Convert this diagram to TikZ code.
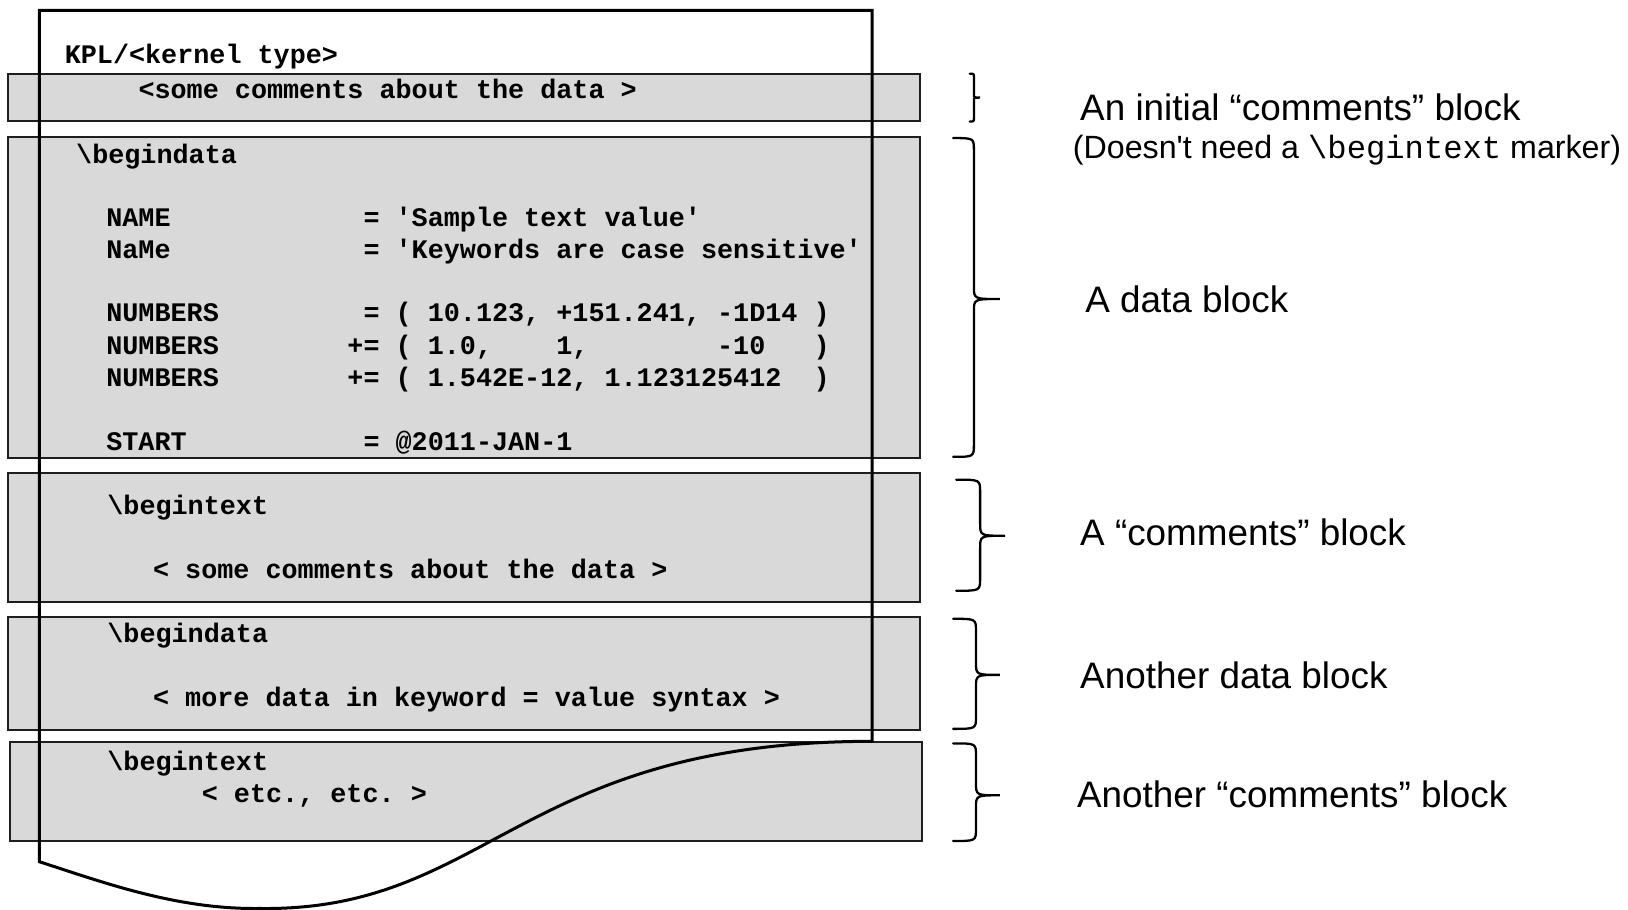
\documentclass[tikz,border=0pt]{standalone}
\usepackage{fontspec}
\setmonofont{Liberation Mono}
\newfontfamily\lab{Liberation Sans}
\definecolor{boxgray}{RGB}{217,217,217}
\definecolor{edge}{RGB}{30,30,30}
\newcommand\drawbrace[7]{%
  \draw[bracestyle] (#1,#4) .. controls (#2,#4) .. (#2,{#4+#7}) -- (#2,{#6-#7})
    .. controls (#2,#6) .. (#3,#6) .. controls (#2,#6) .. (#2,{#6+#7})
    -- (#2,{#5-#7}) .. controls (#2,#5) .. (#1,#5);}
\begin{document}
\begin{tikzpicture}[x=0.5pt,y=-0.5pt,
  blockbox/.style={draw=edge, line width=0.95pt, fill=boxgray},
  code/.style={anchor=base west, inner sep=0pt, font=\ttfamily\bfseries\fontsize{12.9}{14}\selectfont},
  lbl/.style={anchor=base west, inner sep=0pt, font=\lab\fontsize{17.75}{20}\selectfont},
  lblsmall/.style={anchor=base west, inner sep=0pt, font=\lab\fontsize{15.5}{17}\selectfont},
  pageline/.style={draw=black, line width=1.45pt, line join=miter},
  bracestyle/.style={draw=black, line width=1.1pt, line cap=round}]
\useasboundingbox (0,0) rectangle (1568,876);
% blocks
\draw[blockbox] (8,71) rectangle (886,117);
\draw[blockbox] (8,132) rectangle (886,441);
\draw[blockbox] (8,456) rectangle (886,580);
\draw[blockbox] (8,594) rectangle (886,703);
\draw[blockbox] (10,715) rectangle (888,810);
% code text
\node[code] (kpl) at (62,61) {KPL/<kernel type>};
\node[code] (c0) at (133,95) {<some comments about the data >};
\node[code] (bd1) at (73,157) {\textbackslash begindata};
\node[code] (name) at (102,218) {NAME~~~~~~~~~~~~= 'Sample text value'};
\node[code] (name2) at (102,249) {NaMe~~~~~~~~~~~~= 'Keywords are case sensitive'};
\node[code] (num1) at (102,310) {NUMBERS~~~~~~~~~= ( 10.123, +151.241, -1D14 )};
\node[code] (num2) at (102,341) {NUMBERS~~~~~~~~+= ( 1.0,~~~~1,~~~~~~~~-10~~~)};
\node[code] (num3) at (102,372) {NUMBERS~~~~~~~~+= ( 1.542E-12, 1.123125412~~)};
\node[code] (start) at (102,434) {START~~~~~~~~~~~= @2011-JAN-1};
\node[code] (bt1) at (103,496) {\textbackslash begintext};
\node[code] (c1) at (147,557) {< some comments about the data >};
\node[code] (bd2) at (103,619) {\textbackslash begindata};
\node[code] (d2) at (147,680) {< more data in keyword = value syntax >};
\node[code] (bt2) at (103,742) {\textbackslash begintext};
\node[code] (etc) at (194,773) {< etc., etc. >};
% page outline
\draw[pageline] (840,714) -- (840,10) -- (38,10) -- (38,830)
  .. controls (100,850) and (170,876) .. (250,875)
  .. controls (470,878) and (500,714) .. (840,714) -- cycle;
% braces
\drawbrace{934}{938}{944}{71}{117}{94}{3}
\drawbrace{918}{938}{963}{133}{440}{288}{12}
\drawbrace{921}{944}{968}{462}{569}{516}{12}
\drawbrace{918}{940}{963}{596}{702}{650}{12}
\drawbrace{918}{940}{963}{716}{810}{766}{12}
% labels
\node[lbl] (l1) at (1040,116) {An initial “comments” block};
\node[lblsmall] (l1b) at (1033,153) {(Doesn't need a {\ttfamily\mdseries\textbackslash begintext} marker)};
\node[lbl] (l2) at (1045,301) {A data block};
\node[lbl] (l3) at (1040,525) {A “comments” block};
\node[lbl] (l4) at (1040,663) {Another data block};
\node[lbl] (l5) at (1037,778) {Another “comments” block};
\end{tikzpicture}
\end{document}
